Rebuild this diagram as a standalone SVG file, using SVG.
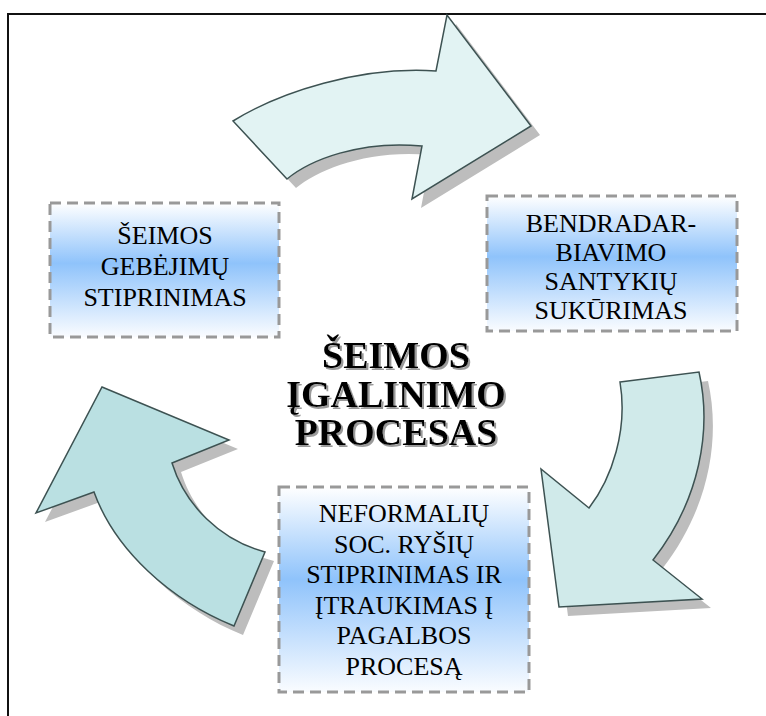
<svg xmlns="http://www.w3.org/2000/svg" xmlns:xlink="http://www.w3.org/1999/xlink" width="766" height="716" viewBox="0 0 766 716">
<style>
.arrow{stroke:#3d5252;stroke-width:1.5;stroke-linejoin:miter}
.shadow{fill:#bdbdbd;stroke:none}
.box{stroke:#999999;stroke-width:3;stroke-dasharray:11 6;fill:url(#boxGrad)}
.lbl{font-size:26px;fill:#000;text-anchor:middle}
.title{font-size:38px;font-weight:bold;text-anchor:middle}
</style>
<defs>
<linearGradient id="boxGrad" x1="0" y1="0" x2="0" y2="1">
<stop offset="0" stop-color="#ffffff"/>
<stop offset="0.45" stop-color="#8fc3fb"/>
<stop offset="1" stop-color="#fafcff"/>
</linearGradient>
<filter id="txtShadow" x="-10%" y="-10%" width="120%" height="130%">
<feOffset in="SourceAlpha" dx="2" dy="2" result="off"/>
<feFlood flood-color="#9a9a9a"/>
<feComposite in2="off" operator="in" result="sh"/>
<feMerge><feMergeNode in="sh"/><feMergeNode in="SourceGraphic"/></feMerge>
</filter>
<path id="aTop" d="M233,121 C280,92 360,66 436,71 L447,15 L531,126 L412,199 L422,146 C360,140 310,160 287,179 Z"/>
<path id="aRight" d="M620,382 L699,372 C712,430 700,500 653,560 L702,599 L559,607 L541,469 L589,508 C612,478 628,430 620,382 Z"/>
<path id="aLeft" d="M102,387 L229,440 L172,463 C185,505 220,540 265,552 L234,626 C170,600 115,550 94,492 L36,513 Z"/>
</defs>
<rect x="8" y="14" width="770" height="720" fill="#ffffff" stroke="#111111" stroke-width="2"/>
<g id="connectors">
<use xlink:href="#aTop" class="shadow" transform="translate(9,9)"/>
<use xlink:href="#aTop" class="arrow" fill="#e2f3f3"/>
<use xlink:href="#aRight" class="shadow" transform="translate(9,9)"/>
<use xlink:href="#aRight" class="arrow" fill="#d0eaea"/>
<use xlink:href="#aLeft" class="shadow" transform="translate(9,9)"/>
<use xlink:href="#aLeft" class="arrow" fill="#bae0e2"/>
</g>
<g font-family="Liberation Serif, Tinos, Noto Serif, DejaVu Serif, FreeSerif, Times New Roman, Times, serif">
<g id="node-left">
<rect class="box" x="50" y="203" width="229" height="134"/>
<text class="lbl" x="165" y="244">ŠEIMOS</text>
<text class="lbl" x="165" y="275">GEBĖJIMŲ</text>
<text class="lbl" x="165" y="306">STIPRINIMAS</text>
</g>
<g id="node-right">
<rect class="box" x="487" y="196" width="250" height="135"/>
<text class="lbl" x="611" y="232">BENDRADAR-</text>
<text class="lbl" x="611" y="261">BIAVIMO</text>
<text class="lbl" x="611" y="290">SANTYKIŲ</text>
<text class="lbl" x="611" y="319">SUKŪRIMAS</text>
</g>
<g id="node-bottom">
<rect class="box" x="279" y="487" width="250" height="205"/>
<text class="lbl" x="404" y="522">NEFORMALIŲ</text>
<text class="lbl" x="404" y="553">SOC. RYŠIŲ</text>
<text class="lbl" x="404" y="583">STIPRINIMAS IR</text>
<text class="lbl" x="404" y="614">ĮTRAUKIMAS Į</text>
<text class="lbl" x="404" y="644">PAGALBOS</text>
<text class="lbl" x="404" y="675">PROCESĄ</text>
</g>
<g id="node-center" filter="url(#txtShadow)">
<text class="title" x="396" y="368">ŠEIMOS</text>
<text class="title" x="396" y="407">ĮGALINIMO</text>
<text class="title" x="396" y="445">PROCESAS</text>
</g>
</g>
</svg>
